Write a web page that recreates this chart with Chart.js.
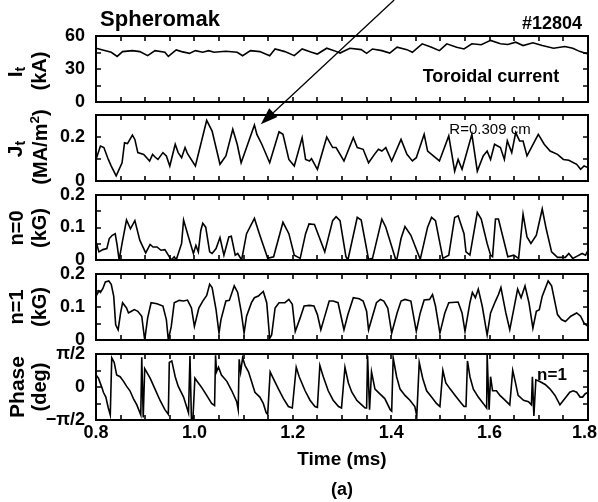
<!DOCTYPE html>
<html>
<head>
<meta charset="utf-8">
<script src="https://cdn.jsdelivr.net/npm/chart.js@4.4.1/dist/chart.umd.min.js"></script>
<style>
  html, body { margin:0; padding:0; background:#fff; }
  #wrap { position:relative; width:598px; height:502px; overflow:hidden; background:#fff;
          font-family:"Liberation Sans", Arial, sans-serif; font-weight:bold; color:#000; }
  #wrap canvas { position:absolute; left:0; }
  .t { position:absolute; white-space:nowrap; line-height:1; transform:translate(-50%,-50%); }
  .r { position:absolute; white-space:nowrap; line-height:1; transform:translate(-50%,-50%) rotate(-90deg); }
  .r sub { font-size:68%; vertical-align:-0.2em; }
  .r sup { font-size:68%; vertical-align:0.6em; }
</style>
</head>
<body>
<div id="wrap">
  <canvas id="c0"></canvas>
  <canvas id="c1"></canvas>
  <canvas id="c2"></canvas>
  <canvas id="c3"></canvas>
  <canvas id="c4"></canvas>
  <canvas id="overlay" width="598" height="502" style="top:0;width:598px;height:502px"></canvas>

  <div class="t" style="left:160px;top:19px;font-size:22px">Spheromak</div>
  <div class="t" style="left:552px;top:23px;font-size:18px">#12804</div>
  <div class="t" style="left:491px;top:76px;font-size:18px">Toroidal current</div>
  <div class="t" style="left:490px;top:128px;font-size:15px;font-weight:normal">R=0.309 cm</div>
  <div class="t" style="left:552px;top:374px;font-size:17px">n=1</div>
  <div class="t" style="left:342px;top:458px;font-size:19px">Time (ms)</div>
  <div class="t" style="left:342px;top:489px;font-size:18px">(a)</div>

  <div class="r" style="left:16px;top:72px;font-size:21px">I<sub>t</sub></div>
  <div class="r" style="left:39px;top:71px;font-size:20px">(kA)</div>
  <div class="r" style="left:16px;top:149px;font-size:21px">J<sub>t</sub></div>
  <div class="r" style="left:39px;top:147px;font-size:20px">(MA/m<sup>2</sup>)</div>
  <div class="r" style="left:16px;top:228px;font-size:20px">n=0</div>
  <div class="r" style="left:39px;top:228px;font-size:20px">(kG)</div>
  <div class="r" style="left:16px;top:307px;font-size:20px">n=1</div>
  <div class="r" style="left:39px;top:307px;font-size:20px">(kG)</div>
  <div class="r" style="left:16px;top:387px;font-size:21px">Phase</div>
  <div class="r" style="left:39px;top:387px;font-size:20px">(deg)</div>
</div>
<script>
// ---------------- data ----------------
const X_TICKS = [0.80,0.85,0.90,0.95,1.00,1.05,1.10,1.15,1.20,1.25,1.30,1.35,1.40,1.45,1.50,1.55,1.60,1.65,1.70,1.75,1.80];
const X_TICK_LABELS = ['0.8','','','','1.0','','','','1.2','','','','1.4','','','','1.6','','','','1.8'];

const IT_TICKS = [0,15,30,45,60];
const IT_TICK_LABELS = ['0','','30','','60'];
const JT_TICKS = [0,0.1,0.2,0.3];
const JT_TICK_LABELS = ['0','','0.2',''];
const N0_TICKS = [0,0.05,0.1,0.15,0.2];
const N0_TICK_LABELS = ['0','','0.1','','0.2'];
const N1_TICKS = [0,0.05,0.1,0.15,0.2];
const N1_TICK_LABELS = ['0','','0.1','','0.2'];
const PH_TICKS = [-Math.PI/2,-Math.PI/4,0,Math.PI/4,Math.PI/2];
const PH_TICK_LABELS = ['\u2212\u03c0/2','','0','','\u03c0/2'];

// Toroidal current It (kA)
const T_IT = [0.800,0.831,0.843,0.854,0.874,0.889,0.905,0.920,0.940,0.947,0.963,0.974,0.990,1.002,1.017,1.029,1.040,1.064,1.087,1.098,
  1.114,1.133,1.153,1.164,1.184,1.203,1.219,1.238,1.250,1.269,1.284,1.296,1.316,1.339,1.350,1.362,1.381,1.397,1.412,1.432,
  1.443,1.463,1.482,1.498,1.513,1.533,1.548,1.564,1.583,1.602,1.622,1.637,1.653,1.668,1.688,1.707,1.730,1.753,1.769,1.784,1.800];
const V_IT = [48.9,45.2,41.4,45.8,46.7,45.8,42.1,46.7,45.2,41.4,47.3,45.8,44.2,46.7,45.2,46.7,45.2,46.1,45.2,42.1,
  46.7,45.8,42.1,48.2,45.8,42.1,48.2,45.2,43.6,48.9,46.7,44.5,48.9,47.6,44.2,48.2,46.7,44.5,49.8,47.6,
  45.2,52.9,49.8,46.7,52.9,49.8,48.2,52.9,52.0,56.0,52.9,52.3,54.4,51.3,53.8,51.3,48.9,50.4,48.9,45.8,43.6];

// Jt (MA/m^2)
const T_JT = [0.800,0.809,0.816,0.825,0.831,0.841,0.853,0.858,0.864,0.874,
  0.879,0.885,0.897,0.909,0.915,0.920,0.926,0.936,0.943,0.950,
  0.961,0.967,0.974,0.981,0.986,1.002,1.025,1.036,1.052,1.064,
  1.078,1.087,1.095,1.106,1.122,1.127,1.137,1.153,1.172,1.180,
  1.192,1.203,1.219,1.226,1.234,1.238,1.250,1.269,1.281,1.288,
  1.304,1.323,1.331,1.343,1.354,1.366,1.374,1.381,1.389,1.401,
  1.420,1.432,1.443,1.451,1.467,1.474,1.482,1.498,1.517,1.529,
  1.536,1.544,1.564,1.575,1.587,1.595,1.602,1.610,1.622,1.630,
  1.636,1.645,1.653,1.661,1.668,1.676,1.699,1.711,1.723,1.738,
  1.750,1.761,1.777,1.785,1.792,1.800];
const V_JT = [0.098,0.159,0.152,0.098,0.068,0.023,0.083,0.174,0.170,0.209,
  0.189,0.129,0.121,0.091,0.121,0.109,0.098,0.129,0.114,0.068,
  0.167,0.129,0.106,0.152,0.124,0.068,0.276,0.227,0.076,0.114,
  0.235,0.167,0.083,0.152,0.255,0.212,0.167,0.083,0.224,0.212,
  0.098,0.068,0.197,0.098,0.091,0.102,0.053,0.200,0.152,0.152,
  0.091,0.197,0.152,0.144,0.083,0.121,0.144,0.136,0.152,0.091,
  0.189,0.121,0.091,0.106,0.212,0.136,0.121,0.091,0.205,0.045,
  0.098,0.053,0.212,0.045,0.114,0.136,0.098,0.167,0.152,0.098,
  0.182,0.129,0.220,0.182,0.182,0.114,0.212,0.167,0.136,0.121,
  0.098,0.094,0.076,0.053,0.068,0.061];

// n=0 (kG)
const T_N0 = [0.800,0.806,0.814,0.822,0.827,0.833,0.839,0.843,0.847,0.853,
  0.862,0.870,0.879,0.889,0.901,0.910,0.916,0.924,0.932,0.940,
  0.947,0.953,0.959,0.963,0.974,0.978,0.988,0.998,1.003,1.008,
  1.013,1.017,1.023,1.031,1.036,1.044,1.052,1.060,1.070,1.075,
  1.083,1.088,1.096,1.106,1.122,1.133,1.149,1.161,1.180,1.192,
  1.203,1.215,1.226,1.233,1.244,1.265,1.281,1.288,1.296,1.308,
  1.312,1.331,1.339,1.354,1.362,1.381,1.389,1.409,1.412,1.420,
  1.428,1.440,1.459,1.474,1.482,1.490,1.505,1.517,1.529,1.536,
  1.548,1.552,1.560,1.575,1.583,1.595,1.602,1.606,1.612,1.618,
  1.637,1.649,1.659,1.668,1.676,1.684,1.695,1.707,1.715,1.726,
  1.738,1.754,1.761,1.769,1.778,1.788,1.795,1.800];
const V_N0 = [0.056,0.025,0.032,0.035,0.066,0.076,0.081,0.045,0.000,0.051,
  0.123,0.096,0.121,0.061,0.022,0.048,0.040,0.040,0.030,0.032,
  0.015,0.000,0.010,0.000,0.051,0.123,0.071,0.020,0.045,0.025,
  0.091,0.113,0.101,0.025,0.020,0.035,0.069,0.015,0.071,0.073,
  0.015,0.020,0.000,0.081,0.128,0.076,0.005,0.010,0.116,0.081,
  0.015,0.005,0.081,0.111,0.109,0.025,0.121,0.133,0.121,0.010,
  0.000,0.131,0.123,0.002,0.005,0.126,0.101,0.002,0.005,0.066,
  0.103,0.076,0.002,0.101,0.131,0.121,0.005,0.015,0.131,0.136,
  0.081,0.025,0.015,0.146,0.126,0.051,0.015,0.010,0.126,0.126,
  0.010,0.015,0.005,0.141,0.071,0.051,0.076,0.157,0.096,0.025,
  0.008,0.008,0.020,0.005,0.012,0.020,0.015,0.030];

// n=1 (kG)
const T_N1 = [0.800,0.806,0.809,0.814,0.819,0.826,0.831,0.836,0.840,0.845,
  0.850,0.854,0.862,0.866,0.872,0.878,0.885,0.893,0.899,0.905,
  0.912,0.924,0.936,0.943,0.947,0.953,0.959,0.969,0.978,0.986,
  0.994,1.000,1.009,1.017,1.025,1.031,1.036,1.044,1.050,1.054,
  1.064,1.071,1.081,1.088,1.095,1.101,1.106,1.116,1.122,1.130,
  1.140,1.147,1.153,1.157,1.164,1.172,1.184,1.192,1.199,1.205,
  1.215,1.223,1.234,1.243,1.250,1.257,1.264,1.274,1.282,1.292,
  1.304,1.312,1.323,1.335,1.343,1.350,1.354,1.362,1.370,1.378,
  1.385,1.393,1.401,1.412,1.420,1.428,1.440,1.451,1.459,1.467,
  1.478,1.484,1.490,1.499,1.509,1.517,1.536,1.544,1.550,1.560,
  1.565,1.571,1.577,1.585,1.595,1.602,1.612,1.618,1.623,1.633,
  1.641,1.651,1.657,1.664,1.672,1.680,1.688,1.695,1.701,1.707,
  1.719,1.726,1.738,1.746,1.754,1.765,1.777,1.785,1.792,1.800];
const V_N1 = [0.133,0.149,0.144,0.156,0.176,0.179,0.169,0.133,0.046,0.031,
  0.082,0.113,0.097,0.082,0.087,0.092,0.087,0.072,0.000,0.067,
  0.113,0.110,0.103,0.062,0.000,0.041,0.113,0.120,0.118,0.121,
  0.097,0.041,0.097,0.118,0.135,0.169,0.159,0.092,0.021,0.062,
  0.118,0.120,0.164,0.144,0.087,0.021,0.072,0.113,0.128,0.133,
  0.147,0.113,0.005,0.015,0.097,0.113,0.113,0.123,0.108,0.026,
  0.067,0.103,0.105,0.103,0.077,0.031,0.067,0.118,0.118,0.113,
  0.031,0.077,0.128,0.125,0.118,0.087,0.031,0.072,0.113,0.123,
  0.118,0.097,0.021,0.082,0.118,0.123,0.118,0.026,0.082,0.121,
  0.123,0.138,0.103,0.021,0.082,0.113,0.115,0.082,0.026,0.113,
  0.144,0.128,0.154,0.103,0.015,0.082,0.118,0.138,0.159,0.082,
  0.031,0.108,0.154,0.128,0.164,0.113,0.036,0.087,0.092,0.133,
  0.179,0.164,0.077,0.062,0.056,0.072,0.082,0.072,0.051,0.041];

// Phase of n=1 (rad)
const T_PH = [0.800,0.805,0.812,0.815,0.820,0.825,0.829,0.832,0.837,0.842,
  0.849,0.856,0.862,0.869,0.876,0.883,0.888,0.891,0.893,0.896,
  0.899,0.910,0.920,0.930,0.940,0.947,0.949,0.954,0.961,0.967,
  0.978,0.984,0.988,0.991,0.994,0.997,1.001,1.008,1.015,1.025,
  1.035,1.041,1.043,1.045,1.049,1.055,1.066,1.076,1.086,1.089,
  1.091,1.094,1.098,1.103,1.110,1.116,1.123,1.133,1.140,1.146,
  1.149,1.154,1.160,1.171,1.181,1.191,1.199,1.207,1.213,1.225,
  1.235,1.245,1.250,1.255,1.262,1.272,1.282,1.293,1.299,1.306,
  1.313,1.320,1.330,1.340,1.347,1.350,1.352,1.356,1.360,1.367,
  1.377,1.387,1.398,1.401,1.404,1.411,1.418,1.428,1.438,1.448,
  1.452,1.457,1.464,1.472,1.482,1.492,1.499,1.505,1.511,1.520,
  1.530,1.540,1.548,1.552,1.555,1.560,1.567,1.577,1.587,1.594,
  1.595,1.599,1.602,1.606,1.614,1.621,1.628,1.638,1.641,1.647,
  1.652,1.658,1.669,1.679,1.685,1.687,1.690,1.694,1.701,1.713,
  1.723,1.733,1.743,1.753,1.763,1.770,1.777,1.784,1.789,1.794,
  1.800];
const V_PH = [0.57,0.42,-0.03,-0.25,-0.48,-1.00,-1.33,1.39,1.17,0.57,
  0.49,0.27,0.04,-0.18,-0.55,-0.85,-1.15,-1.33,1.42,-1.45,
  0.87,0.42,-0.10,-0.63,-1.08,-1.30,1.17,1.24,0.49,0.04,
  -0.48,-0.93,-1.23,1.47,-1.57,-1.53,0.42,0.19,-0.03,-0.40,
  -0.78,-0.88,1.51,0.72,0.94,0.57,0.27,-0.18,-0.70,-1.08,
  1.32,0.72,1.39,1.02,0.72,0.27,-0.25,-0.48,-0.78,-1.23,
  -1.30,0.72,0.42,-0.10,-0.55,-0.93,-1.00,0.94,0.49,-0.18,
  -0.63,-0.93,-0.97,1.02,0.49,-0.18,-0.63,-0.93,-1.00,0.94,
  0.19,-0.25,-0.63,-0.85,-1.00,-1.00,1.47,-1.08,0.72,-0.10,
  -0.33,-0.55,-1.08,-1.15,1.39,0.49,-0.10,-0.40,-0.63,-0.93,
  -1.38,1.17,0.42,-0.18,-0.48,-0.78,-0.93,0.79,0.19,-0.10,
  -0.40,-0.70,-0.93,-0.93,1.24,0.49,-0.10,-0.48,-0.78,-1.00,
  1.54,-1.08,0.49,-0.18,-0.18,-0.40,-0.55,-0.78,-0.85,0.79,
  0.27,-0.40,-0.63,-0.70,-0.85,0.49,-1.38,0.34,0.27,0.12,
  -0.10,-0.40,-0.85,-0.55,-0.25,-0.18,-0.25,-0.48,-0.48,-0.33,
  -0.25];

// arrow annotation (data coordinates of the Jt panel)
const ARROW_TIP_T = 1.135, ARROW_TIP_V = 0.258, ARROW_TAIL_T = 1.406;

// ---------------- layout / drawing ----------------
const FONT = '"Liberation Sans", Arial, sans-serif';
const PANELS = [
  {top:36, bottom:102},
  {top:115, bottom:181},
  {top:195, bottom:260},
  {top:274, bottom:340},
  {top:354, bottom:420}
];
const PAD = 14, XAXIS_H = 30, LEFT = 96, RIGHT = 588, W = 598, TICK_LEN = 5;

const framePlugin = {
  id: 'frame',
  afterDatasetsDraw(chart) {
    const {ctx, chartArea: a, scales: {x, y}} = chart;
    ctx.save();
    ctx.strokeStyle = '#000';
    ctx.lineWidth = 1.6;
    ctx.beginPath();
    x.ticks.forEach(t => {
      const px = Math.round(x.getPixelForValue(t.value));
      if (px <= a.left + 1 || px >= a.right - 1) return;
      ctx.moveTo(px, a.bottom); ctx.lineTo(px, a.bottom - TICK_LEN);
      ctx.moveTo(px, a.top); ctx.lineTo(px, a.top + TICK_LEN);
    });
    y.ticks.forEach(t => {
      const py = Math.round(y.getPixelForValue(t.value));
      if (py <= a.top + 1 || py >= a.bottom - 1) return;
      ctx.moveTo(a.left, py); ctx.lineTo(a.left + TICK_LEN, py);
      ctx.moveTo(a.right, py); ctx.lineTo(a.right - TICK_LEN, py);
    });
    ctx.stroke();
    ctx.lineWidth = 2;
    ctx.strokeRect(a.left, a.top, a.right - a.left, a.bottom - a.top);

    // time tick labels under the bottom panel, kept inside the page
    if (chart.options.showTimeLabels) {
      ctx.fillStyle = '#000';
      ctx.font = 'bold 18px ' + FONT;
      ctx.textAlign = 'center';
      ctx.textBaseline = 'top';
      x.ticks.forEach((t, k) => {
        const lbl = X_TICK_LABELS[k];
        if (!lbl) return;
        const w = ctx.measureText(lbl).width;
        let px = x.getPixelForValue(t.value);
        px = Math.min(px, chart.width - 1 - w / 2);
        ctx.fillText(lbl, px, a.bottom + 4);
      });
    }
    ctx.restore();
  }
};

function makePanel(i, xs, ys, ticks, labels) {
  const p = PANELS[i];
  const last = i === PANELS.length - 1;
  const cv = document.getElementById('c' + i);
  const h = p.bottom - p.top;
  const ch = h + PAD + (last ? XAXIS_H : PAD);
  cv.width = W; cv.height = ch;
  cv.style.top = (p.top - PAD) + 'px';
  cv.style.width = W + 'px'; cv.style.height = ch + 'px';
  const tickFont = {family: FONT, size: 18, weight: 'bold'};
  return new Chart(cv, {
    type: 'line',
    data: { datasets: [{
      data: xs.map((t, k) => ({x: t, y: ys[k]})),
      borderColor: '#000', borderWidth: 1.6, pointRadius: 0, tension: 0, fill: false
    }]},
    options: {
      responsive: false, animation: false, devicePixelRatio: 1, events: [],
      showTimeLabels: last,
      layout: { padding: { left: 0, right: W - RIGHT, top: PAD, bottom: last ? 0 : PAD } },
      plugins: { legend: {display: false}, tooltip: {enabled: false} },
      scales: {
        x: {
          type: 'linear', min: X_TICKS[0], max: X_TICKS[X_TICKS.length - 1],
          grid: {display: false}, border: {display: false},
          ticks: { display: false, autoSkip: false, maxRotation: 0 },
          afterBuildTicks: s => { s.ticks = X_TICKS.map(v => ({value: v})); },
          afterFit: s => { s.height = last ? XAXIS_H : 0; s.paddingLeft = 0; s.paddingRight = 0; }
        },
        y: {
          type: 'linear', min: ticks[0], max: ticks[ticks.length - 1],
          grid: {display: false}, border: {display: false},
          ticks: { autoSkip: false, padding: 3, color: '#000', font: tickFont,
                   callback: (v, k) => labels[k] },
          afterBuildTicks: s => { s.ticks = ticks.map(v => ({value: v})); },
          afterFit: s => { s.width = LEFT; s.paddingTop = 0; s.paddingBottom = 0; }
        }
      }
    },
    plugins: [framePlugin]
  });
}

const charts = [
  makePanel(0, T_IT, V_IT, IT_TICKS, IT_TICK_LABELS),
  makePanel(1, T_JT, V_JT, JT_TICKS, JT_TICK_LABELS),
  makePanel(2, T_N0, V_N0, N0_TICKS, N0_TICK_LABELS),
  makePanel(3, T_N1, V_N1, N1_TICKS, N1_TICK_LABELS),
  makePanel(4, T_PH, V_PH, PH_TICKS, PH_TICK_LABELS)
];

(function drawArrow() {
  const ch = charts[1];
  const offY = PANELS[1].top - PAD;
  const ctx = document.getElementById('overlay').getContext('2d');
  const tx = ch.scales.x.getPixelForValue(ARROW_TIP_T);
  const ty = offY + ch.scales.y.getPixelForValue(ARROW_TIP_V);
  const sx = ch.scales.x.getPixelForValue(ARROW_TAIL_T);
  const sy = 0;
  const ang = Math.atan2(ty - sy, tx - sx);
  const L = 17, Hw = 6;
  const bx = tx - L * Math.cos(ang), by = ty - L * Math.sin(ang);
  ctx.strokeStyle = '#000'; ctx.fillStyle = '#000'; ctx.lineWidth = 1.3;
  ctx.beginPath(); ctx.moveTo(sx, sy); ctx.lineTo(bx, by); ctx.stroke();
  ctx.beginPath();
  ctx.moveTo(tx, ty);
  ctx.lineTo(bx + Hw * Math.sin(ang), by - Hw * Math.cos(ang));
  ctx.lineTo(bx - Hw * Math.sin(ang), by + Hw * Math.cos(ang));
  ctx.closePath(); ctx.fill();
})();
</script>
</body>
</html>
